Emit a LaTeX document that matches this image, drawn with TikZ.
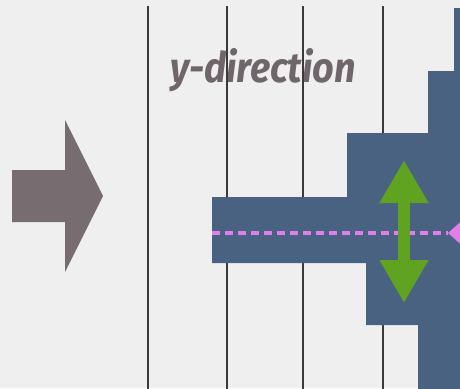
\documentclass[tikz,border=0pt]{standalone}
\usepackage{fontspec}
\setmainfont{Fira Sans}
\usetikzlibrary{arrows.meta}
\definecolor{PaperGray}{HTML}{EFEFEF}
\definecolor{WallLine}{HTML}{3A3A3A}
\definecolor{SlabBlue}{HTML}{4A6282}
\definecolor{PushGray}{HTML}{776D70}
\definecolor{LabelGray}{HTML}{6E666A}
\definecolor{ShiftGreen}{HTML}{60A320}
\definecolor{RayPink}{HTML}{E07EEA}

\begin{document}
\begin{tikzpicture}[x=1pt,y=-1pt]
\path[use as bounding box] (0,0) rectangle (460,388);
\clip (0,0) rectangle (460,388);
\fill[PaperGray] (0,0) rectangle (460,388);
\node[anchor=base west,inner sep=0pt,text=LabelGray,xscale=0.9,
      font=\fontsize{42}{44}\selectfont\itshape\bfseries] (ylab) at (170,82)
      {y-direction};
\foreach \x in {148,227,303,383} {
  \draw[WallLine,line width=1.6pt] (\x,6) -- (\x,390);
}
\fill[SlabBlue] (212,197) -- (347,197) -- (347,133) -- (428,133)
      -- (428,71) -- (454,71) -- (454,8) -- (462,8) -- (462,390)
      -- (418,390) -- (418,325) -- (366,325) -- (366,263) -- (212,263)
      -- cycle;
\coordinate (rayL) at (212,233);
\coordinate (rayR) at (448,233);
\coordinate (rayO) at (480,233);
\draw[RayPink,line width=4.5pt,dash pattern=on 8pt off 5pt] (rayL) -- (rayR);
\draw[RayPink,line width=4.5pt,-{Triangle[length=14pt,width=24pt]}]
      (rayO) -- (rayR);
\coordinate (shiftT) at (404,160);
\coordinate (shiftB) at (404,303);
\draw[ShiftGreen,line width=12pt,
      {Triangle[length=43pt,width=46pt]}-{Triangle[length=43pt,width=46pt]}]
      (shiftT) -- (shiftB);
\fill[PushGray] (12,170) -- (65,170) -- (65,120) -- (103,196)
      -- (65,272) -- (65,222) -- (12,222) -- cycle;
\end{tikzpicture}
\end{document}
